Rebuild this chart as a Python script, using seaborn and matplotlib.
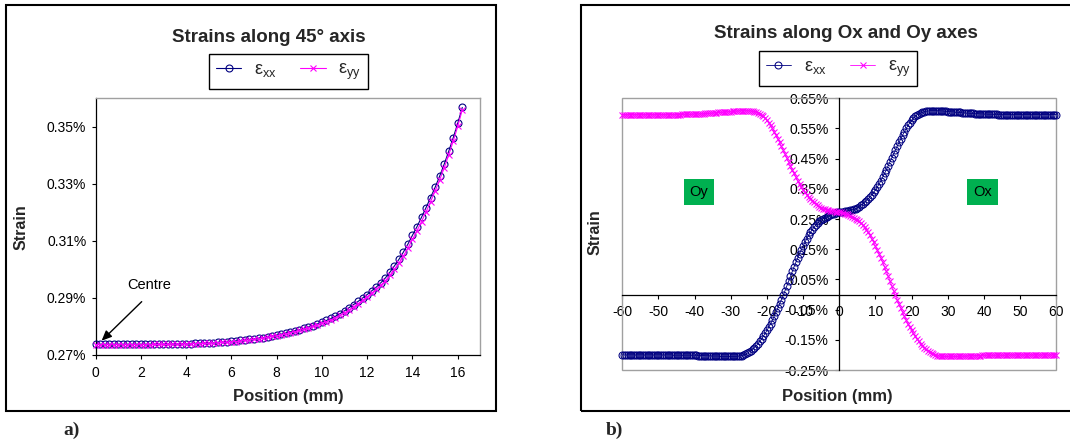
import numpy as np
import matplotlib
matplotlib.use("Agg")
import matplotlib.pyplot as plt
import seaborn as sns
from matplotlib.patches import Rectangle
from matplotlib.ticker import FuncFormatter

# ---------------- data (strain values in %) ----------------
# Panel a: strains along the 45 degree axis
pos_a = np.round(np.arange(0, 16.21, 0.2), 1)
exx_a = [0.2737, 0.2737, 0.2737, 0.2737, 0.2737, 0.2737, 0.2737, 0.2737, 0.2737, 0.2737, 0.2737,
         0.2737, 0.2737, 0.2738, 0.2738, 0.2738, 0.2738, 0.2739, 0.2739, 0.2739, 0.2740,
         0.2740, 0.2741, 0.2741, 0.2742, 0.2742, 0.2743, 0.2744, 0.2745, 0.2746, 0.2748,
         0.2749, 0.2751, 0.2753, 0.2755, 0.2757, 0.2759, 0.2761, 0.2764, 0.2767, 0.2770,
         0.2773, 0.2777, 0.2781, 0.2785, 0.2789, 0.2793, 0.2798, 0.2803, 0.2809, 0.2815,
         0.2821, 0.2828, 0.2836, 0.2845, 0.2855, 0.2866, 0.2877, 0.2888, 0.2900, 0.2912,
         0.2925, 0.2938, 0.2953, 0.2970, 0.2990, 0.3012, 0.3035, 0.3061, 0.3089, 0.3120,
         0.3150, 0.3183, 0.3217, 0.3252, 0.3288, 0.3327, 0.3369, 0.3414, 0.3462, 0.3513,
         0.3568]
eyy_a = [0.2736, 0.2736, 0.2736, 0.2736, 0.2736, 0.2736, 0.2736, 0.2736, 0.2736, 0.2736, 0.2736,
         0.2736, 0.2736, 0.2737, 0.2737, 0.2737, 0.2737, 0.2738, 0.2738, 0.2738, 0.2739,
         0.2739, 0.2740, 0.2740, 0.2741, 0.2741, 0.2742, 0.2743, 0.2744, 0.2745, 0.2746,
         0.2747, 0.2749, 0.2751, 0.2753, 0.2755, 0.2757, 0.2759, 0.2762, 0.2765, 0.2768,
         0.2771, 0.2774, 0.2778, 0.2782, 0.2786, 0.2790, 0.2795, 0.2800, 0.2805, 0.2811,
         0.2817, 0.2823, 0.2831, 0.2839, 0.2848, 0.2858, 0.2869, 0.2880, 0.2892, 0.2904,
         0.2917, 0.2930, 0.2944, 0.2960, 0.2979, 0.3000, 0.3022, 0.3047, 0.3075, 0.3105,
         0.3136, 0.3168, 0.3202, 0.3238, 0.3275, 0.3314, 0.3356, 0.3401, 0.3450, 0.3502,
         0.3560]

# Panel b: strains along Ox (x>0) and Oy (x<0)
pos_b = np.arange(-60, 60.01, 0.5)
exx_b = [-0.200, -0.200, -0.200, -0.200, -0.200, -0.200, -0.200, -0.200, -0.200, -0.200,
         -0.200, -0.200, -0.200, -0.200, -0.200, -0.200, -0.200, -0.200, -0.200, -0.200,
         -0.200, -0.200, -0.200, -0.200, -0.200, -0.200, -0.200, -0.200, -0.201, -0.201,
         -0.201, -0.201, -0.201, -0.201, -0.201, -0.201, -0.201, -0.201, -0.201, -0.201,
         -0.201, -0.201, -0.202, -0.202, -0.202, -0.202, -0.203, -0.203, -0.203, -0.203,
         -0.204, -0.204, -0.204, -0.204, -0.205, -0.205, -0.205, -0.205, -0.205, -0.205,
         -0.205, -0.205, -0.205, -0.205, -0.204, -0.203, -0.202, -0.200, -0.198, -0.195,
         -0.191, -0.187, -0.182, -0.176, -0.170, -0.163, -0.155, -0.147, -0.138, -0.129,
         -0.119, -0.108, -0.097, -0.085, -0.072, -0.059, -0.045, -0.031, -0.017, -0.003,
         0.013, 0.029, 0.045, 0.061, 0.077, 0.092, 0.107, 0.121, 0.135, 0.148,
         0.160, 0.173, 0.185, 0.196, 0.206, 0.215, 0.223, 0.230, 0.236, 0.242,
         0.247, 0.251, 0.255, 0.258, 0.261, 0.264, 0.266, 0.268, 0.270, 0.272,
         0.273,
         0.274, 0.275, 0.276, 0.277, 0.278, 0.279, 0.281, 0.282, 0.284, 0.287,
         0.291, 0.296, 0.300, 0.305, 0.311, 0.317, 0.324, 0.331, 0.339, 0.347,
         0.356, 0.366, 0.377, 0.389, 0.401, 0.413, 0.426, 0.439, 0.452, 0.465,
         0.478, 0.491, 0.504, 0.516, 0.528, 0.539, 0.550, 0.560, 0.569, 0.577,
         0.584, 0.590, 0.595, 0.599, 0.602, 0.604, 0.606, 0.607, 0.608, 0.609,
         0.609, 0.609, 0.609, 0.609, 0.609, 0.608, 0.608, 0.607, 0.607, 0.606,
         0.606, 0.605, 0.605, 0.604, 0.604, 0.603, 0.603, 0.602, 0.602, 0.601,
         0.601, 0.600, 0.600, 0.600, 0.599, 0.599, 0.599, 0.598, 0.598, 0.598,
         0.598, 0.597, 0.597, 0.597, 0.597, 0.597, 0.597, 0.596, 0.596, 0.596,
         0.596, 0.596, 0.596, 0.596, 0.596, 0.596, 0.596, 0.596, 0.596, 0.596,
         0.596, 0.596, 0.596, 0.596, 0.596, 0.596, 0.596, 0.596, 0.596, 0.596,
         0.596, 0.596, 0.596, 0.596, 0.596, 0.596, 0.596, 0.596, 0.596, 0.596]
eyy_b = [0.596, 0.596, 0.596, 0.596, 0.596, 0.596, 0.596, 0.596, 0.596, 0.596,
         0.596, 0.596, 0.596, 0.596, 0.596, 0.596, 0.596, 0.596, 0.596, 0.596,
         0.596, 0.596, 0.596, 0.596, 0.596, 0.596, 0.596, 0.596, 0.596, 0.596,
         0.596, 0.596, 0.596, 0.597, 0.597, 0.597, 0.597, 0.597, 0.597, 0.598,
         0.598, 0.598, 0.598, 0.599, 0.599, 0.599, 0.600, 0.600, 0.600, 0.601,
         0.601, 0.602, 0.602, 0.603, 0.603, 0.604, 0.604, 0.605, 0.605, 0.606,
         0.606, 0.607, 0.607, 0.608, 0.608, 0.609, 0.609, 0.609, 0.609, 0.609,
         0.609, 0.608, 0.607, 0.606, 0.604, 0.602, 0.599, 0.595, 0.590, 0.584,
         0.577, 0.569, 0.560, 0.550, 0.539, 0.528, 0.516, 0.504, 0.491, 0.478,
         0.465, 0.452, 0.439, 0.426, 0.413, 0.401, 0.389, 0.377, 0.366, 0.356,
         0.347, 0.339, 0.331, 0.324, 0.317, 0.311, 0.305, 0.300, 0.296, 0.291,
         0.287, 0.284, 0.282, 0.281, 0.279, 0.278, 0.277, 0.276, 0.275, 0.274,
         0.273,
         0.272, 0.270, 0.268, 0.266, 0.264, 0.261, 0.258, 0.255, 0.251, 0.247,
         0.242, 0.236, 0.230, 0.223, 0.215, 0.206, 0.196, 0.185, 0.173, 0.160,
         0.148, 0.135, 0.121, 0.107, 0.092, 0.077, 0.061, 0.045, 0.029, 0.013,
         -0.003, -0.017, -0.031, -0.045, -0.059, -0.072, -0.085, -0.097, -0.108, -0.119,
         -0.129, -0.138, -0.147, -0.155, -0.163, -0.170, -0.176, -0.182, -0.187, -0.191,
         -0.195, -0.198, -0.200, -0.202, -0.203, -0.204, -0.205, -0.205, -0.205, -0.205,
         -0.205, -0.205, -0.205, -0.205, -0.205, -0.205, -0.204, -0.204, -0.204, -0.204,
         -0.203, -0.203, -0.203, -0.203, -0.202, -0.202, -0.202, -0.202, -0.201, -0.201,
         -0.201, -0.201, -0.201, -0.201, -0.201, -0.201, -0.201, -0.201, -0.201, -0.201,
         -0.201, -0.201, -0.200, -0.200, -0.200, -0.200, -0.200, -0.200, -0.200, -0.200,
         -0.200, -0.200, -0.200, -0.200, -0.200, -0.200, -0.200, -0.200, -0.200, -0.200,
         -0.200, -0.200, -0.200, -0.200, -0.200, -0.200, -0.200, -0.200, -0.200, -0.200]

xticks_a = [0, 2, 4, 6, 8, 10, 12, 14, 16]
yticks_a = [0.27, 0.29, 0.31, 0.33, 0.35]
xticks_b = [-60, -50, -40, -30, -20, -10, 0, 10, 20, 30, 40, 50, 60]
yticks_b = [-0.25, -0.15, -0.05, 0.05, 0.15, 0.25, 0.35, 0.45, 0.55, 0.65]

title_a = "Strains along 45\u00b0 axis"
title_b = "Strains along Ox and Oy axes"
lab_xx = "\u03b5$_{xx}$"
lab_yy = "\u03b5$_{yy}$"

# ---------------- style ----------------
W, H = 1070, 443
sns.set_theme(style="white")
plt.rcParams["font.family"] = ["Liberation Sans", "DejaVu Sans"]
plt.rcParams["mathtext.fontset"] = "custom"
plt.rcParams["mathtext.rm"] = "Liberation Sans"
plt.rcParams["mathtext.it"] = "Liberation Sans"
plt.rcParams["mathtext.default"] = "regular"
plt.rcParams["axes.unicode_minus"] = False

NAVY = "#000080"
MAG = "#FF00FF"
GRAY = "#A0A0A0"
GREEN = "#00B050"
TICK_FS = 10

fig = plt.figure(figsize=(W / 100, H / 100), dpi=100)
fig.patch.set_facecolor("white")


def fx(px):
    return px / W


def fy(py):
    return 1 - py / H


def pct(v, p):
    return f"{v:.2f}%"


# outer frames
fig.add_artist(Rectangle((fx(6.2), fy(410.7)), (495.9 - 6.2) / W, (410.7 - 5) / H,
                         transform=fig.transFigure, fill=False, ec="black", lw=1.5))
fig.add_artist(Rectangle((fx(580.6), fy(410.7)), (1080 - 580.6) / W, (410.7 - 5) / H,
                         transform=fig.transFigure, fill=False, ec="black", lw=1.5))

# ---------------- panel a ----------------
axa = fig.add_axes([fx(95.5), fy(355), (480.4 - 95.5) / W, (355 - 98.3) / H])
sns.lineplot(x=pos_a, y=exx_a, ax=axa, color=NAVY, lw=0.8, marker="o", markersize=5,
             markerfacecolor="none", markeredgecolor=NAVY, markeredgewidth=0.8,
             label=lab_xx, legend=False, clip_on=False, zorder=3)
sns.lineplot(x=pos_a, y=eyy_a, ax=axa, color=MAG, lw=0.8, marker="x", markersize=5,
             markeredgecolor=MAG, markeredgewidth=0.8,
             label=lab_yy, legend=False, clip_on=False, zorder=4)
axa.set_xlim(0, 17)
axa.set_ylim(0.27, 0.36)
axa.set_xticks(xticks_a)
axa.set_yticks(yticks_a)
axa.yaxis.set_major_formatter(FuncFormatter(pct))
axa.tick_params(axis="both", direction="out", length=2.6, width=0.8, color="black",
                labelsize=TICK_FS, labelcolor="black", bottom=True, left=True)
axa.tick_params(axis="x", pad=5.5)
axa.tick_params(axis="y", pad=4.0)
for s in ["left", "bottom"]:
    axa.spines[s].set_color("black")
    axa.spines[s].set_linewidth(0.9)
for s in ["top", "right"]:
    axa.spines[s].set_color(GRAY)
    axa.spines[s].set_linewidth(1.0)
axa.set_xlabel("")
axa.set_ylabel("")
axa.annotate("", xy=(0.27, 0.2750), xytext=(2.04, 0.2887),
             arrowprops=dict(arrowstyle="-|>,head_length=0.5,head_width=0.22",
                             color="black", lw=1, shrinkA=0, shrinkB=0),
             annotation_clip=False, zorder=6)
axa.text(2.36, 0.2945, "Centre", ha="center", va="center", fontsize=10.5, color="black")

legend_kw = dict(loc="center", ncol=2, frameon=True, fancybox=False, edgecolor="black",
                 framealpha=1, fontsize=13, handlelength=1.4, columnspacing=1.3,
                 handletextpad=0.7, borderpad=0.38, borderaxespad=0)

h, l = axa.get_legend_handles_labels()
lga = axa.legend(h, l, bbox_to_anchor=(fx(288.6), fy(71.5)),
                 bbox_transform=fig.transFigure, **legend_kw)
lga.get_frame().set_linewidth(1.0)

# ---------------- panel b ----------------
axb = fig.add_axes([fx(622.3), fy(370), (1056.3 - 622.3) / W, (370 - 98.3) / H])
sns.lineplot(x=pos_b, y=exx_b, ax=axb, color=NAVY, lw=0.6, marker="o", markersize=5,
             markerfacecolor="none", markeredgecolor=NAVY, markeredgewidth=0.75,
             label=lab_xx, legend=False, clip_on=False, zorder=3)
sns.lineplot(x=pos_b, y=eyy_b, ax=axb, color=MAG, lw=0.6, marker="x", markersize=5,
             markeredgecolor=MAG, markeredgewidth=0.75,
             label=lab_yy, legend=False, clip_on=False, zorder=4)
axb.set_xlim(-60, 60)
axb.set_ylim(-0.25, 0.65)
axb.set_xticks(xticks_b)
axb.set_yticks(yticks_b)
axb.yaxis.set_major_formatter(FuncFormatter(pct))
axb.spines["left"].set_position(("data", 0))
axb.spines["bottom"].set_position(("data", 0))
for s in ["left", "bottom"]:
    axb.spines[s].set_color("black")
    axb.spines[s].set_linewidth(0.9)
    axb.spines[s].set_zorder(2)
for s in ["top", "right"]:
    axb.spines[s].set_visible(False)
axb.add_patch(Rectangle((0, 0), 1, 1, transform=axb.transAxes, fill=False,
                        ec=GRAY, lw=1.0, clip_on=False, zorder=1))
axb.tick_params(axis="both", direction="out", length=3.1, width=0.8, color="black",
                labelsize=TICK_FS, labelcolor="black", bottom=True, left=True)
axb.tick_params(axis="x", pad=4.5)
axb.tick_params(axis="y", pad=4.5)
axb.set_xlabel("")
axb.set_ylabel("")
box = dict(boxstyle="square,pad=0.4", fc=GREEN, ec="none")
axb.text(-38.8, 0.3406, "Oy", ha="center", va="center", fontsize=10.5, color="black",
         bbox=box, zorder=5)
axb.text(39.6, 0.3406, "Ox", ha="center", va="center", fontsize=10.5, color="black",
         bbox=box, zorder=5)

h, l = axb.get_legend_handles_labels()
lgb = axb.legend(h, l, bbox_to_anchor=(fx(838.2), fy(68.5)),
                 bbox_transform=fig.transFigure, **legend_kw)
lgb.get_frame().set_linewidth(1.0)

# ---------------- figure texts ----------------
fig.text(fx(268.6), fy(37), title_a, ha="center", va="center", fontsize=13.5,
         fontweight="bold")
fig.text(fx(846), fy(33), title_b, ha="center", va="center", fontsize=13.5,
         fontweight="bold")
fig.text(fx(288.6), fy(397), "Position (mm)", ha="center", va="center", fontsize=12,
         fontweight="bold")
fig.text(fx(837.5), fy(397), "Position (mm)", ha="center", va="center", fontsize=12,
         fontweight="bold")
fig.text(fx(20.7), fy(227), "Strain", ha="center", va="center", rotation=90,
         fontsize=11.5, fontweight="bold")
fig.text(fx(595), fy(232), "Strain", ha="center", va="center", rotation=90,
         fontsize=11.5, fontweight="bold")
fig.text(fx(72), fy(430), "a)", ha="center", va="center", fontsize=14,
         fontweight="bold", family=["Liberation Serif", "DejaVu Serif"])
fig.text(fx(614), fy(430), "b)", ha="center", va="center", fontsize=14,
         fontweight="bold", family=["Liberation Serif", "DejaVu Serif"])

fig.savefig("out.png", dpi=100, facecolor="white")
